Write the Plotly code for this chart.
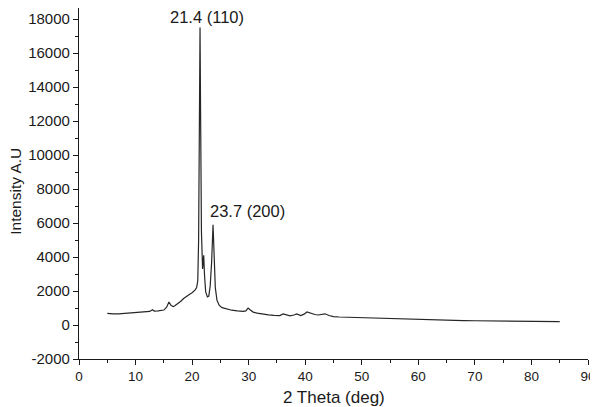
import plotly.graph_objects as go

# XRD pattern
TWO_THETA = [
    5.0, 5.5, 6, 7, 8, 9, 10, 11, 12, 12.5, 13, 13.3, 14, 15, 15.5, 15.9,
    16.3, 16.7, 17, 17.5, 18, 18.5, 19, 19.5, 20, 20.5, 20.8, 21.0, 21.15,
    21.3, 21.4, 21.5, 21.65, 21.85, 22.05, 22.2, 22.4, 22.7, 22.95, 23.2,
    23.45, 23.7, 23.9, 24.1, 24.4, 24.8, 25.3, 26, 27, 28, 29, 29.5, 29.9,
    30.3, 30.8, 31.5, 32.5, 33.5, 34.5, 35.5, 36.1, 36.7, 37.3, 38, 38.5,
    39.2, 39.8, 40.3, 41, 41.7, 42.3, 43, 43.5, 44.2, 45, 46, 47, 48, 49,
    50, 52, 54, 56, 58, 60, 62, 64, 66, 68, 70, 72, 74, 76, 78, 80, 82, 84, 85,
]
INTENSITY = [
    680, 660, 650, 660, 680, 700, 730, 760, 780, 800, 900, 820, 830, 880,
    1050, 1350, 1150, 1080, 1150, 1260, 1400, 1560, 1700, 1800, 1900, 2050,
    2200, 2600, 5000, 14000, 17500, 12500, 5500, 3300, 4100, 2900, 1950,
    1650, 1700, 2300, 3700, 5900, 3900, 2200, 1450, 1150, 1020, 950, 870,
    830, 800, 830, 1000, 880, 760, 700, 640, 600, 570, 550, 650, 600, 540,
    590, 650, 550, 640, 770, 690, 620, 590, 640, 660, 560, 490, 470, 460,
    440, 420, 400, 380, 360, 340, 320, 305, 290, 275, 265, 255, 250, 245,
    240, 235, 225, 215, 210, 200, 195,
]

Y_TICKS = [-2000, 0, 2000, 4000, 6000, 8000, 10000, 12000, 14000, 16000, 18000]
Y_TICK_TEXT = ["-2000", "0", "2000", "4000", "6000", "8000", "10000",
               "12000", "14000", "16000", "18000"]

PEAK_LABELS = ["21.4 (110)", "23.7 (200)"]
PEAK_LABEL_X = [22.7, 29.8]
PEAK_LABEL_Y = [18150, 6690]

FONT = "Arial, 'Liberation Sans', sans-serif"
INK = "#1a1a1a"

fig = go.Figure()
fig.add_trace(
    go.Scatter(
        x=TWO_THETA,
        y=INTENSITY,
        mode="lines",
        line=dict(color="#262626", width=1.2),
        showlegend=False,
    )
)

for texto, xx, yy in zip(PEAK_LABELS, PEAK_LABEL_X, PEAK_LABEL_Y):
    fig.add_annotation(
        x=xx, y=yy, text=texto, showarrow=False,
        font=dict(family=FONT, size=16.5, color=INK),
    )

# axis titles placed by hand
fig.add_annotation(
    x=0.5, y=-0.11, xref="paper", yref="paper", text="2 Theta (deg)",
    showarrow=False, yanchor="middle",
    font=dict(family=FONT, size=17, color=INK),
)
fig.add_annotation(
    x=-0.124, y=0.479, xref="paper", yref="paper", text="Intensity A.U",
    textangle=-90, showarrow=False, xanchor="center",
    font=dict(family=FONT, size=15.5, color=INK),
)

fig.update_xaxes(
    range=[0, 90],
    dtick=10,
    ticks="outside",
    ticklen=5,
    tickcolor=INK,
    minor=dict(dtick=5, ticks="outside", ticklen=3, tickcolor=INK),
    showline=True,
    linecolor=INK,
    linewidth=1.2,
    showgrid=False,
    zeroline=False,
    tickfont=dict(family=FONT, size=13.5, color=INK),
)
# the page body adds an 8px offset, so the top of the axis is trimmed a little
fig.update_yaxes(
    range=[-2000, 18650],
    tickmode="array",
    tickvals=Y_TICKS,
    ticktext=Y_TICK_TEXT,
    ticks="outside",
    ticklen=5,
    tickcolor=INK,
    minor=dict(dtick=1000, tick0=0, ticks="outside", ticklen=3, tickcolor=INK),
    showline=True,
    linecolor=INK,
    linewidth=1.2,
    showgrid=False,
    zeroline=False,
    tickfont=dict(family=FONT, size=15, color=INK),
)

fig.update_layout(
    width=590,
    height=399,
    margin=dict(l=71, r=10, t=0, b=48),
    paper_bgcolor="white",
    plot_bgcolor="white",
)

fig.write_html("out.html")
